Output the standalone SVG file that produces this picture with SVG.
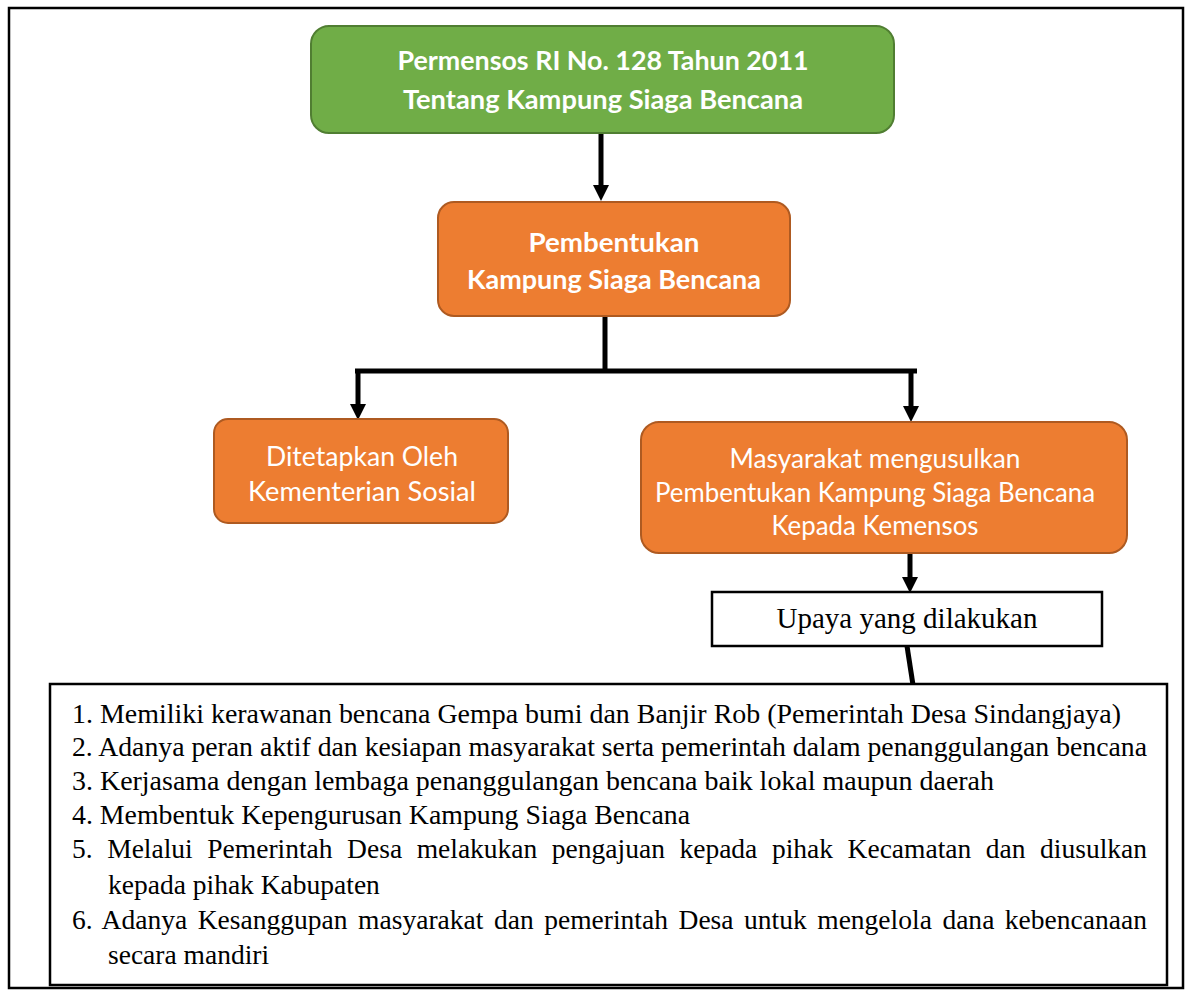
<svg xmlns="http://www.w3.org/2000/svg" width="1189" height="991" viewBox="0 0 1189 991">
<style>
.frame{fill:#fff;stroke:#000;stroke-width:2.5}
.green{fill:#70AD47;stroke:#507E32;stroke-width:2}
.orange{fill:#ED7D31;stroke:#AE5A21;stroke-width:2}
.plain{fill:#fff;stroke:#000;stroke-width:2.5}
.tb{font-family:Lato,"Open Sans",sans-serif;font-weight:bold;font-size:26px;fill:#fff;text-anchor:middle}
.tr{font-family:Lato,"Open Sans",sans-serif;font-size:26px;fill:#fff;text-anchor:middle}
.tt{font-family:"Liberation Serif","Times New Roman",serif;font-size:29px;fill:#000}
.tl{font-family:"Liberation Serif","Times New Roman",serif;font-size:27.5px;fill:#000}
.conn{stroke:#000;stroke-width:5;fill:none}
</style>
<defs>
<marker id="ah" markerUnits="userSpaceOnUse" markerWidth="16" markerHeight="16" refX="0" refY="8" orient="auto">
<path d="M0,0 L16,8 L0,16 z" fill="#000"/>
</marker>
</defs>
<rect x="0" y="0" width="1189" height="991" fill="#fff"/>
<rect class="frame" x="9" y="8" width="1174" height="980"/>
<g id="connectors">
<line class="conn" x1="601" y1="133" x2="601" y2="185" marker-end="url(#ah)"/>
<line class="conn" x1="605" y1="316" x2="605" y2="372"/>
<line class="conn" x1="355" y1="371" x2="917" y2="371"/>
<line class="conn" x1="358" y1="369" x2="358" y2="404" marker-end="url(#ah)"/>
<line class="conn" x1="911" y1="369" x2="911" y2="406" marker-end="url(#ah)"/>
<line class="conn" x1="910" y1="553" x2="910" y2="577" marker-end="url(#ah)"/>
<line class="conn" x1="907" y1="646" x2="913" y2="685"/>
</g>
<g id="n1">
<rect class="green" x="311" y="26" width="583" height="107" rx="18"/>
<text class="tb" x="603" y="70" textLength="411" lengthAdjust="spacingAndGlyphs">Permensos RI No. 128 Tahun 2011</text>
<text class="tb" x="603" y="109" textLength="400" lengthAdjust="spacingAndGlyphs">Tentang Kampung Siaga Bencana</text>
</g>
<g id="n2">
<rect class="orange" x="438" y="202" width="352" height="114" rx="16"/>
<text class="tb" x="614" y="252" textLength="171" lengthAdjust="spacingAndGlyphs">Pembentukan</text>
<text class="tb" x="614" y="289" textLength="294" lengthAdjust="spacingAndGlyphs">Kampung Siaga Bencana</text>
</g>
<g id="n3">
<rect class="orange" x="214" y="419" width="294" height="104" rx="14"/>
<text class="tr" x="362" y="466" textLength="192" lengthAdjust="spacingAndGlyphs">Ditetapkan Oleh</text>
<text class="tr" x="362" y="501" textLength="228" lengthAdjust="spacingAndGlyphs">Kementerian Sosial</text>
</g>
<g id="n4">
<rect class="orange" x="641" y="422" width="486" height="131" rx="18"/>
<text class="tr" x="875" y="468" textLength="291" lengthAdjust="spacingAndGlyphs">Masyarakat mengusulkan</text>
<text class="tr" x="875" y="502" textLength="440" lengthAdjust="spacingAndGlyphs">Pembentukan Kampung Siaga Bencana</text>
<text class="tr" x="875" y="535" textLength="207" lengthAdjust="spacingAndGlyphs">Kepada Kemensos</text>
</g>
<g id="n5">
<rect class="plain" x="712" y="592" width="390" height="54"/>
<text class="tt" x="907" y="628" text-anchor="middle">Upaya yang dilakukan</text>
</g>
<g id="n6">
<rect class="plain" x="50" y="684" width="1117" height="301"/>
<text class="tl" x="72" y="723" textLength="1049" lengthAdjust="spacingAndGlyphs">1. Memiliki kerawanan bencana Gempa bumi dan Banjir Rob (Pemerintah Desa Sindangjaya)</text>
<text class="tl" x="72" y="756" textLength="1075" lengthAdjust="spacingAndGlyphs">2. Adanya peran aktif dan kesiapan masyarakat serta pemerintah dalam penanggulangan bencana</text>
<text class="tl" x="72" y="790" textLength="922" lengthAdjust="spacingAndGlyphs">3. Kerjasama dengan lembaga penanggulangan bencana baik lokal maupun daerah</text>
<text class="tl" x="72" y="824" textLength="618" lengthAdjust="spacingAndGlyphs">4. Membentuk Kepengurusan Kampung Siaga Bencana</text>
<text class="tl" x="72" y="858" word-spacing="7.7" textLength="1075" lengthAdjust="spacing">5. Melalui Pemerintah Desa melakukan pengajuan kepada pihak Kecamatan dan diusulkan</text>
<text class="tl" x="108" y="894">kepada pihak Kabupaten</text>
<text class="tl" x="72" y="929" word-spacing="3.6" textLength="1075" lengthAdjust="spacing">6. Adanya Kesanggupan masyarakat dan pemerintah Desa untuk mengelola dana kebencanaan</text>
<text class="tl" x="108" y="964">secara mandiri</text>
</g>
</svg>
